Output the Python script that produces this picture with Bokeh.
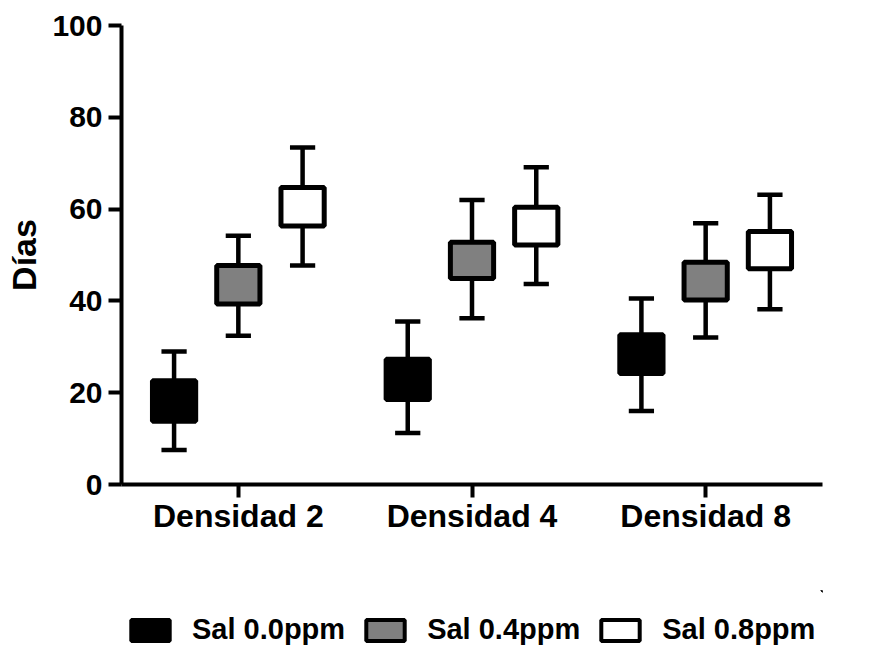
from bokeh.plotting import figure
from bokeh.layouts import column
from bokeh.models import (FactorRange, Range1d, ColumnDataSource, Legend, LegendItem,
                          FixedTicker)
from bokeh.transform import dodge
from bokeh.embed import file_html
from bokeh.resources import INLINE

categories = ["Densidad 2", "Densidad 4", "Densidad 8"]
series_labels = ["Sal 0.0ppm", "Sal 0.4ppm", "Sal 0.8ppm"]

# Sal 0.0 ppm
sal00_whisker_low = [7.5, 11.2, 16.0]
sal00_box_low = [13.8, 18.5, 24.2]
sal00_box_high = [22.6, 27.3, 32.6]
sal00_whisker_high = [29.0, 35.5, 40.5]

# Sal 0.4 ppm
sal04_whisker_low = [32.4, 36.2, 32.0]
sal04_box_low = [39.3, 44.9, 40.2]
sal04_box_high = [47.7, 52.8, 48.4]
sal04_whisker_high = [54.2, 62.0, 56.9]

# Sal 0.8 ppm
sal08_whisker_low = [47.7, 43.7, 38.2]
sal08_box_low = [56.3, 52.2, 47.0]
sal08_box_high = [64.7, 60.4, 55.1]
sal08_whisker_high = [73.4, 69.1, 63.1]

y_ticks = [0, 20, 40, 60, 80, 100]

FONT = "Liberation Sans"

p = figure(
    width=895, height=590,
    x_range=FactorRange(*categories, range_padding=0.0),
    y_range=Range1d(0, 100),
    output_backend="svg", toolbar_location=None,
    min_border_left=121, min_border_right=73,
    min_border_top=25, min_border_bottom=106,
)
p.background_fill_color = "white"
p.border_fill_color = "white"
p.outline_line_color = None
p.xgrid.grid_line_color = None
p.ygrid.grid_line_color = None

# legend strip (separate figure below the chart, no axes)
leg_fig = figure(
    width=895, height=56, x_range=Range1d(0, 1), y_range=Range1d(0, 1),
    output_backend="svg", toolbar_location=None,
    x_axis_location=None, y_axis_location=None,
    min_border_left=0, min_border_right=0, min_border_top=0, min_border_bottom=0,
)
leg_fig.grid.visible = False
leg_fig.outline_line_color = None
leg_fig.background_fill_color = "white"
leg_fig.border_fill_color = "white"

series = [
    (sal00_whisker_low, sal00_box_low, sal00_box_high, sal00_whisker_high, "#000000", -0.275),
    (sal04_whisker_low, sal04_box_low, sal04_box_high, sal04_whisker_high, "#808080", 0.0),
    (sal08_whisker_low, sal08_box_low, sal08_box_high, sal08_whisker_high, "#ffffff", 0.275),
]

box_w = 0.185
cap_half = 0.054
items = []
for (wl, bl, bh, wh, col, off), lab in zip(series, series_labels):
    src = ColumnDataSource(dict(cat=categories, wl=wl, bl=bl, bh=bh, wh=wh))
    p.segment(x0=dodge("cat", off, range=p.x_range), x1=dodge("cat", off, range=p.x_range),
              y0="wl", y1="wh", source=src, line_color="black", line_width=4.5)
    for yk in ("wl", "wh"):
        p.segment(x0=dodge("cat", off - cap_half, range=p.x_range),
                  x1=dodge("cat", off + cap_half, range=p.x_range),
                  y0=yk, y1=yk, source=src, line_color="black", line_width=4.5)
    p.vbar(x=dodge("cat", off, range=p.x_range), width=box_w, bottom="bl", top="bh",
           source=src, fill_color=col, line_color="black", line_width=5)
    # swatch renderer placed outside the strip's visible range (only used by the legend)
    lr = leg_fig.vbar(x=[5], width=0.1, top=[6], bottom=[5],
                      fill_color=col, line_color="black", line_width=4)
    items.append(LegendItem(label=lab, renderers=[lr]))

# Axes
p.yaxis.ticker = FixedTicker(ticks=y_ticks)
p.yaxis.minor_tick_line_color = None
for ax in (p.xaxis[0], p.yaxis[0]):
    ax.axis_line_width = 4
    ax.major_tick_line_width = 4
    ax.major_tick_out = 13
    ax.major_tick_in = 0
    ax.major_label_text_font = FONT
    ax.major_label_text_font_style = "bold"
    ax.major_label_text_color = "black"
    ax.axis_line_color = "black"
    ax.major_tick_line_color = "black"
p.yaxis.major_label_text_font_size = "30px"
p.yaxis.major_label_standoff = 6
p.xaxis.major_label_text_font_size = "32px"
p.xaxis.major_label_standoff = 0

p.yaxis.axis_label = "Días"
p.yaxis.axis_label_text_font = FONT
p.yaxis.axis_label_text_font_style = "bold"
p.yaxis.axis_label_text_font_size = "34px"
p.yaxis.axis_label_text_color = "black"
p.yaxis.axis_label_standoff = 6

legend = Legend(
    items=items, orientation="horizontal", location=(5, 0),
    label_text_font=FONT, label_text_font_style="bold", label_text_font_size="29px",
    label_text_color="black",
    glyph_width=48, glyph_height=26, label_standoff=18, spacing=16,
    padding=0, margin=0, border_line_alpha=0, background_fill_alpha=0,
)
leg_fig.add_layout(legend, "center")

layout = column(p, leg_fig, spacing=0)
open("out.html", "w").write(file_html(layout, INLINE))
